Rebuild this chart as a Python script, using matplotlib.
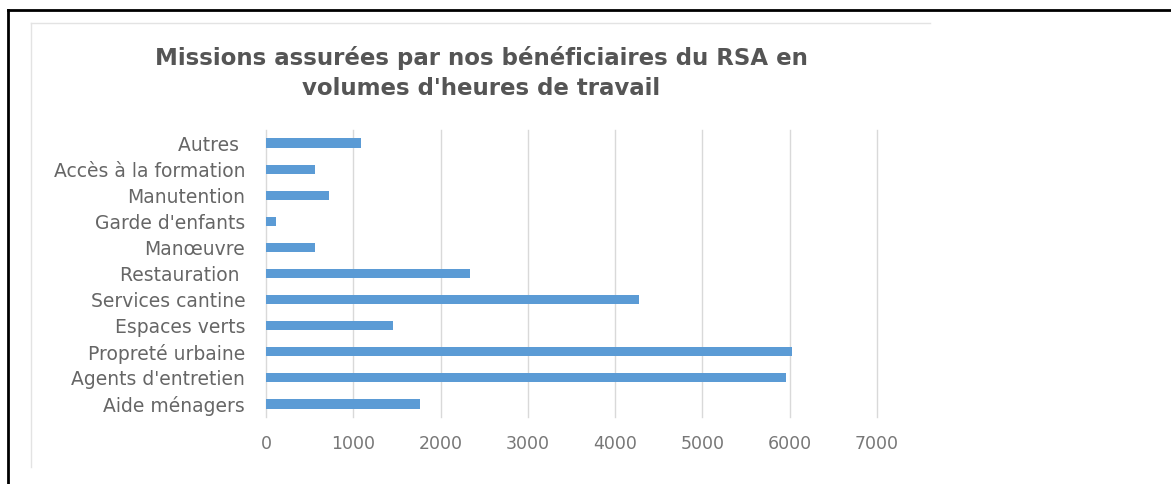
#!/usr/bin/env python3

import matplotlib
matplotlib.use("Agg")
from matplotlib import pyplot as plt
from matplotlib.lines import Line2D

# data, bottom to top as drawn
categories = ["Aide ménagers", "Agents d'entretien", "Propreté urbaine",
              "Espaces verts", "Services cantine", "Restauration ",
              "Manœuvre", "Garde d'enfants", "Manutention",
              "Accès à la formation", "Autres "]
heures = [1765, 5960, 6030, 1460, 4270, 2340, 565, 115, 720, 560, 1090]
x_ticks = [0, 1000, 2000, 3000, 4000, 5000, 6000, 7000]

title = "Missions assurées par nos bénéficiaires du RSA en\nvolumes d'heures de travail"

def main():
    plt.rcParams['font.family'] = ['DejaVu Sans']
    fig = plt.figure(figsize=(11.71, 4.84), dpi=100)
    W, H = 1171, 484

    # outer black frame (top + left only)
    fig.add_artist(Line2D([8 / W, 1.0], [1 - 10 / H, 1 - 10 / H],
                          color="black", lw=2, transform=fig.transFigure))
    fig.add_artist(Line2D([8 / W, 8 / W], [0, 1 - 10 / H],
                          color="black", lw=2, transform=fig.transFigure))
    # light chart-area border
    fig.add_artist(Line2D([31 / W, 930 / W], [1 - 23 / H, 1 - 23 / H],
                          color="#e3e3e3", lw=1, transform=fig.transFigure))
    fig.add_artist(Line2D([31 / W, 31 / W], [1 - 467 / H, 1 - 23 / H],
                          color="#e3e3e3", lw=1, transform=fig.transFigure))

    ax = fig.add_axes([266 / W, 1 - 417 / H, (877 - 266) / W, (417 - 130) / H])
    ax.barh(range(len(categories)), heures, height=0.35, color="#5B9BD5", zorder=3)
    ax.set_xlim(0, 7000)
    ax.set_ylim(-0.5, len(categories) - 0.5)
    ax.set_xticks(x_ticks)
    ax.set_yticks(range(len(categories)))
    ax.set_yticklabels(categories)
    ax.grid(True, axis="x", color="#d9d9d9", lw=1, zorder=0)
    for gl in ax.get_xgridlines():
        gl.set_clip_on(False)
    for s in ax.spines.values():
        s.set_visible(False)
    ax.tick_params(axis="y", length=0, pad=15, labelsize=13.5, labelcolor="#666666")
    ax.tick_params(axis="x", length=0, pad=13, labelsize=12.5, labelcolor="#777777")

    fig.text(481 / W, 1 - 73 / H, title, ha="center", va="center",
             fontsize=16.5, fontweight="bold", color="#555555", linespacing=1.35)

    fig.savefig("out.png", dpi=100)

if __name__ == "__main__":
    main()
